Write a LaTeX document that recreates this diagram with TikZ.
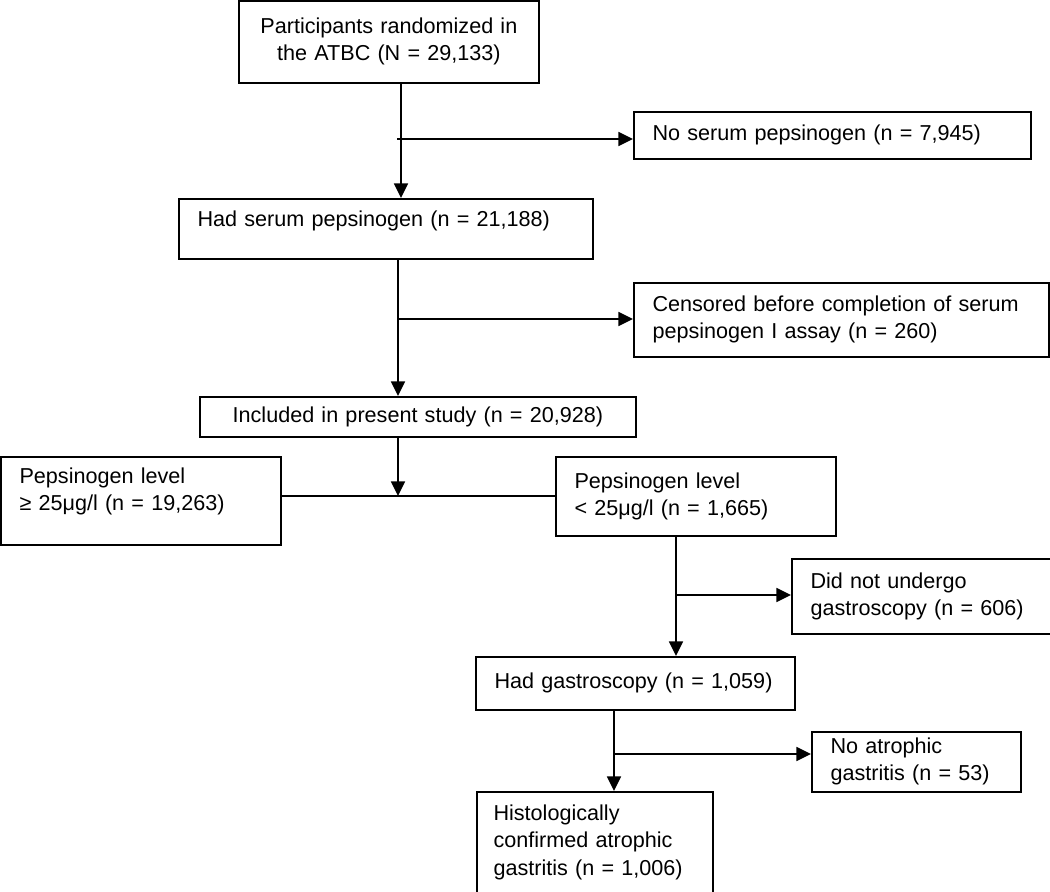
\documentclass[tikz,border=0pt]{standalone}
\usepackage{fontspec}
\setmainfont{Liberation Sans}
\usetikzlibrary{arrows.meta}
\begin{document}
\begin{tikzpicture}[x=0.75pt,y=-0.75pt,
  box/.style={draw=black, line width=1.3pt, anchor=north west, inner xsep=14pt, inner ysep=2pt,
    font=\fontsize{16.2}{20.3}\selectfont, align=left},
  cbox/.style={box, align=center},
  conn/.style={line width=1.3pt, -{Triangle[length=11pt,width=10.5pt]}},
  plain/.style={line width=1.3pt}]
\useasboundingbox (0,0) rectangle (1050,892);
\node[cbox, minimum width=225pt, minimum height=61.5pt, text width=213pt, inner xsep=6pt] (top) at (238,0)
  {Participants randomized in\\the ATBC (N = 29,133)};
\node[box, minimum width=297.75pt, minimum height=35.25pt, text width=269.75pt] (nosrum) at (633,111)
  {No serum pepsinogen (n = 7,945)};
\node[box, minimum width=310.5pt, minimum height=45pt, text width=282.5pt] (had) at (178,198)
  {Had serum pepsinogen (n = 21,188)\rule[-16pt]{0pt}{1pt}};
\node[box, minimum width=311.25pt, minimum height=55.5pt, text width=283.25pt] (cens) at (633,282)
  {Censored before completion of serum\\pepsinogen I assay (n = 260)};
\node[cbox, minimum width=327pt, minimum height=30pt, text width=299pt] (incl) at (199,396)
  {Included in present study (n = 20,928)};
\node[box, minimum width=210pt, minimum height=66pt, text width=182pt] (pge) at (0,456)
  {Pepsinogen level\\≥ 25μg/l (n = 19,263)\rule[-17pt]{0pt}{1pt}};
\node[box, minimum width=210pt, minimum height=59.25pt, text width=182pt] (plt) at (555,456)
  {Pepsinogen level\\< 25μg/l (n = 1,665)};
\node[box, minimum width=194.25pt, minimum height=56.25pt, text width=166.25pt] (dng) at (791,558)
  {Did not undergo\\gastroscopy (n = 606)};
\node[box, minimum width=239.25pt, minimum height=39.75pt, text width=211.25pt] (hg) at (475,656)
  {Had gastroscopy (n = 1,059)};
\node[box, minimum width=156.75pt, minimum height=45pt, text width=128.75pt] (nag) at (811,731)
  {No atrophic\\gastritis (n = 53)};
\node[box, minimum width=177pt, minimum height=75.75pt, text width=152pt, inner xsep=12.5pt] (hist) at (476,791)
  {Histologically\\confirmed atrophic\\gastritis (n = 1,006)};
% connectors
\coordinate (j1) at (401,139);
\coordinate (j1s) at (397,139);
\draw[conn] (top.south -| j1) -- (had.north -| j1);
\draw[conn] (j1s) -- (nosrum.west |- j1);
\coordinate (j2) at (398,319);
\draw[conn] (had.south -| j2) -- (incl.north -| j2);
\draw[conn] (j2) -- (cens.west |- j2);
\coordinate (j3) at (398,496);
\draw[conn] (incl.south -| j3) -- (j3);
\draw[plain] (pge.east |- j3) -- (plt.west |- j3);
\coordinate (j4) at (676,595);
\draw[conn] (plt.south -| j4) -- (hg.north -| j4);
\draw[conn] (j4) -- (dng.west |- j4);
\coordinate (j5) at (614,754);
\draw[conn] (hg.south -| j5) -- (hist.north -| j5);
\draw[conn] (j5) -- (nag.west |- j5);
\end{tikzpicture}
\end{document}
